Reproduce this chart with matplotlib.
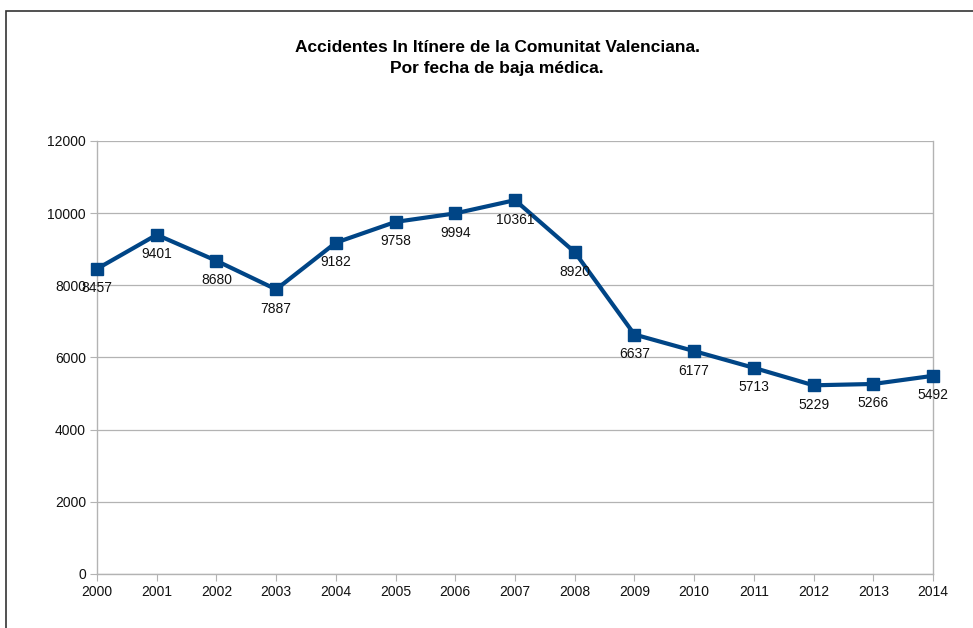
import matplotlib.pyplot as plt
from matplotlib.patches import Rectangle

# Datos
years = [2000, 2001, 2002, 2003, 2004, 2005, 2006, 2007,
         2008, 2009, 2010, 2011, 2012, 2013, 2014]
accidents = [8457, 9401, 8680, 7887, 9182, 9758, 9994, 10361,
             8920, 6637, 6177, 5713, 5229, 5266, 5492]
yticks = [0, 2000, 4000, 6000, 8000, 10000, 12000]
title = "Accidentes In Itínere de la Comunitat Valenciana.\nPor fecha de baja médica."

plt.rcParams['font.family'] = ['Liberation Sans', 'DejaVu Sans']

fig = plt.figure(figsize=(9.73, 6.28), dpi=100)
ax = fig.add_axes([0.0997, 0.086, 0.8592, 0.6895])

# Rahmen um die ganze Grafik
fig.patches.append(Rectangle((6 / 973, -0.05), 1.2, (628 - 11) / 628 + 0.05,
                             transform=fig.transFigure, fill=False,
                             edgecolor='#333333', linewidth=1.2))

line_color = '#004586'
ax.plot(years, accidents, color=line_color, linewidth=3, marker='s',
        markersize=9, zorder=3, clip_on=False)

for x, y in zip(years, accidents):
    ax.annotate(str(y), (x, y), xytext=(0, -14), textcoords='offset points',
                ha='center', va='center', fontsize=10, color='#111111', zorder=4)

ax.set_xlim(years[0], years[-1])
ax.set_ylim(0, 12000)
ax.set_xticks(years)
ax.set_yticks(yticks)
ax.tick_params(axis='both', direction='out', length=5, color='#b3b3b3',
               labelsize=10, labelcolor='#111111', pad=3)

ax.grid(axis='y', color='#b3b3b3', linewidth=0.9)
ax.set_axisbelow(True)
for side in ['left', 'right', 'top', 'bottom']:
    ax.spines[side].set_color('#b3b3b3')
    ax.spines[side].set_linewidth(1.0)
ax.spines['top'].set_visible(False)

fig.text(0.511, 1 - 58 / 628, title, ha='center', va='center',
         fontsize=12.5, fontweight='bold', linespacing=1.5)

fig.savefig('out.png', dpi=100)
